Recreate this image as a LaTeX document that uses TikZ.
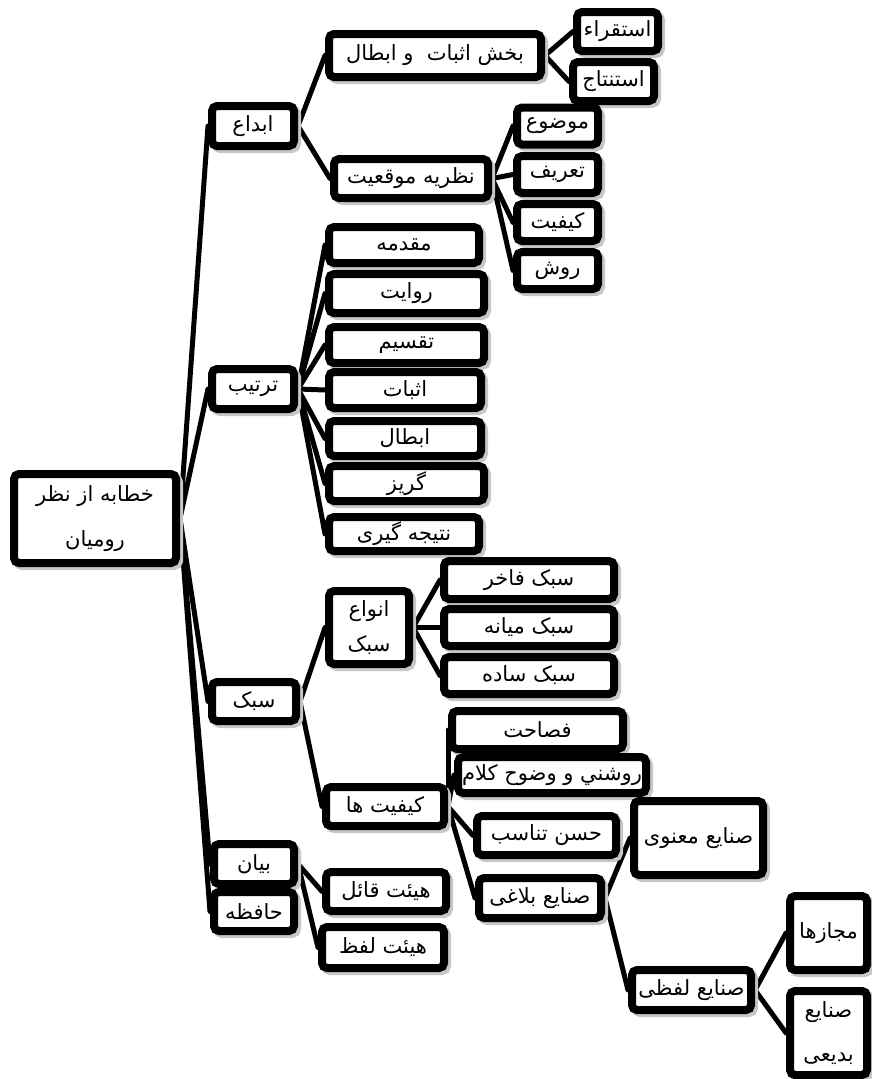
\documentclass[tikz,border=0pt]{standalone}
\usepackage{fontspec}
\setmainfont{DejaVu Sans}
\newfontfamily\fa[Script=Arabic]{DejaVu Sans}
\TeXXeTstate=1
\usetikzlibrary{shadows}
\pgfdeclarelayer{bg}
\pgfsetlayers{bg,main}
\newcommand\RT[1]{\beginR #1\endR}
\newcommand\bx[6]{\node[box,minimum width=#4pt-8pt,minimum height=#5pt-8pt] (#1) at (#2,#3) {#6};}
\begin{document}
\begin{tikzpicture}[x=1pt,y=-1pt,
  box/.style={draw=black, line width=8pt, rounded corners=5pt, fill=white, inner sep=0pt,
    font=\fa\fontsize{21}{26}\selectfont, align=center,
    drop shadow={shadow xshift=3pt, shadow yshift=-3pt, fill=black!22, draw=black!22, line width=8pt, opacity=1}},
  link/.style={line width=5pt, line cap=round}]
\useasboundingbox (0,0) rectangle (871,1079);
% level 0
\bx{root}{95}{518.5}{170}{97}{\RT{خطابه از نظر}\\[19pt]\RT{رومیان}}
% level 1
\bx{abda}{253}{126}{90}{48}{\RT{ابداع}}
\bx{tartib}{253}{389}{90}{48}{\RT{ترتیب}}
\bx{sabk}{254}{701.5}{92}{47}{\RT{سبک}}
\bx{bayan}{254}{864}{88}{48}{\RT{بیان}}
\bx{hafeze}{254}{911.5}{88}{47}{\RT{حافظه}}
% under abda
\bx{bakhsh}{435}{55.5}{220}{51}{\RT{بخش اثبات\ \ و ابطال}}
\bx{nazarie}{411}{178.5}{162}{47}{\RT{نظریه موقعیت}}
\bx{esteghra}{617.5}{31.5}{89}{47}{\RT{استقراء}}
\bx{estentaj}{613.5}{81.5}{89}{47}{\RT{استنتاج}}
\bx{mozu}{557.5}{126}{89}{45}{\RT{موضوع}}
\bx{tarif}{557.5}{174.5}{89}{45}{\RT{تعریف}}
\bx{keyfiat}{557.5}{222.5}{89}{45}{\RT{کیفیت}}
\bx{ravesh}{557.5}{270.5}{89}{45}{\RT{روش}}
% under tartib
\bx{moghadame}{404}{245}{158}{44}{\RT{مقدمه}}
\bx{revayat}{406.5}{293.5}{163}{47}{\RT{روایت}}
\bx{taghsim}{406.5}{345}{163}{44}{\RT{تقسیم}}
\bx{esbat}{405}{390}{160}{44}{\RT{اثبات}}
\bx{ebtal}{405}{438.5}{160}{43}{\RT{ابطال}}
\bx{goriz}{406.5}{483.5}{163}{43}{\RT{گریز}}
\bx{natije}{404}{534}{158}{42}{\RT{نتیجه گیری}}
% under sabk
\bx{anva}{369}{627.5}{88}{81}{\RT{انواع}\\[9pt]\RT{سبک}}
\bx{fakher}{529}{580}{178}{46}{\RT{سبک فاخر}}
\bx{miane}{529}{627.5}{178}{45}{\RT{سبک میانه}}
\bx{sade}{529}{675.5}{178}{45}{\RT{سبک ساده}}
\bx{keyfiatha}{385}{806.5}{126}{47}{\RT{کیفیت ها}}
\bx{fesahat}{537.5}{730}{179}{46}{\RT{فصاحت}}
\bx{roshani}{552}{775}{196}{44}{\makebox[0pt]{\RT{روشني و وضوح کلام}}}
\bx{hosn}{546.5}{835.5}{147}{47}{\RT{حسن تناسب}}
\bx{balaghi}{540}{898}{130}{48}{\makebox[0pt]{\RT{صنایع بلاغی}}}
\bx{manavi}{698.5}{838}{137}{82}{\makebox[0pt]{\RT{صنایع معنوی}}}
\bx{lafzi}{691.5}{990}{127}{48}{\makebox[0pt]{\RT{صنایع لفظی}}}
\bx{majaz}{828.5}{933}{85}{82}{\RT{مجازها}}
\bx{badii}{828.5}{1033}{85}{92}{\RT{صنایع}\\[18pt]\RT{بدیعی}}
% under bayan
\bx{ghael}{386}{891.5}{128}{47}{\RT{هیئت قائل}}
\bx{lafz}{383}{947.5}{130}{49}{\RT{هیئت لفظ}}
% connectors
\begin{pgfonlayer}{bg}
\foreach \a/\b in {root/abda, root/tartib, root/sabk, root/bayan, root/hafeze,
  abda/bakhsh, abda/nazarie, bakhsh/esteghra, bakhsh/estentaj,
  nazarie/mozu, nazarie/tarif, nazarie/keyfiat, nazarie/ravesh,
  tartib/moghadame, tartib/revayat, tartib/taghsim, tartib/esbat, tartib/ebtal, tartib/goriz, tartib/natije,
  sabk/anva, sabk/keyfiatha, anva/fakher, anva/miane, anva/sade,
  keyfiatha/fesahat, keyfiatha/roshani, keyfiatha/hosn, keyfiatha/balaghi,
  balaghi/manavi, balaghi/lafzi, lafzi/majaz, lafzi/badii, bayan/ghael, bayan/lafz}
  \draw[link] (\a.east) -- (\b.west);
\end{pgfonlayer}
\end{tikzpicture}
\end{document}
